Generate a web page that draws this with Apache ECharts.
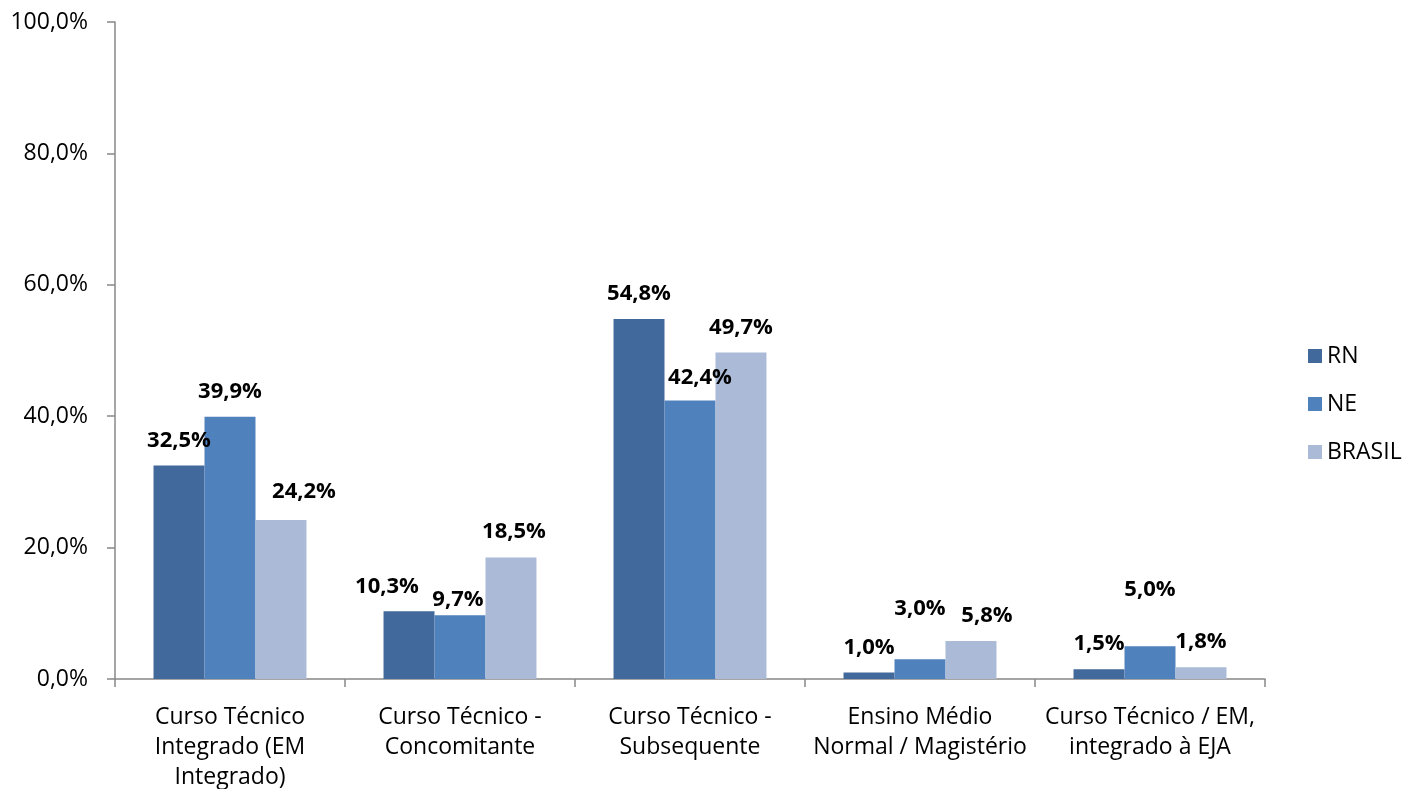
<!DOCTYPE html>
<html>
<head>
<meta charset="utf-8">
<script src="https://cdn.jsdelivr.net/npm/echarts@6/dist/echarts.min.js"></script>
<style>
  html, body { margin: 0; padding: 0; background: #fff; }
  #chart { width: 1407px; height: 789px; }
</style>
</head>
<body>
<div id="chart"></div>
<script>
// Distribution of enrolments by course type (%)
const categories = [
  'Curso Técnico\nIntegrado (EM\nIntegrado)',
  'Curso Técnico -\nConcomitante',
  'Curso Técnico -\nSubsequente',
  'Ensino Médio\nNormal / Magistério',
  'Curso Técnico / EM,\nintegrado à EJA'
];
const seriesNames = ['RN', 'NE', 'BRASIL'];
const rnValues = [32.5, 10.3, 54.8, 1.0, 1.5];
const neValues = [39.9, 9.7, 42.4, 3.0, 5.0];
const brasilValues = [24.2, 18.5, 49.7, 5.8, 1.8];
const yTicks = [0, 20, 40, 60, 80, 100];

// Hand-placed label nudges [dx, dy] per series, per category
const labelNudges = [
  [[0, 0], [-22, 0], [0, 0], [0, 0], [0, 0]],
  [[0, 0], [-2, 9], [10, 2], [0, -26], [0, -31]],
  [[23, -3], [3, -1], [0, 0], [16, 0], [0, 0]]
];

const colors = ['#41699B', '#4F81BD', '#AABAD7'];
const FONT = 'Open Sans';
const fmt = v => v.toFixed(1).replace('.', ',') + '%';

const chart = echarts.init(document.getElementById('chart'));

const valueSets = [rnValues, neValues, brasilValues];
const series = seriesNames.map((name, s) => ({
  name: name,
  type: 'bar',
  barGap: '0%',
  barCategoryGap: '33.5%',
  itemStyle: { color: colors[s] },
  label: {
    show: true,
    position: 'top',
    distance: 14,
    fontFamily: FONT,
    fontWeight: 'bold',
    fontSize: 22,
    color: '#000',
    formatter: p => fmt(p.value)
  },
  data: valueSets[s].map((v, i) => ({
    value: v,
    label: { offset: labelNudges[s][i] }
  }))
}));

chart.setOption({
  animation: false,
  backgroundColor: '#fff',
  color: colors,
  grid: {
    left: 115, right: 142, top: 22, bottom: 110,
    containLabel: false,
    outerBoundsMode: 'none'
  },
  legend: {
    orient: 'vertical',
    left: 1303,
    top: 339,
    itemWidth: 14,
    itemHeight: 14,
    itemGap: 24,
    icon: 'rect',
    textStyle: { fontFamily: FONT, fontSize: 23, color: '#000', lineHeight: 24 },
    data: seriesNames
  },
  xAxis: {
    type: 'category',
    data: categories,
    axisLine: { lineStyle: { color: '#888', width: 1.5 } },
    axisTick: { show: true, length: 8, lineStyle: { color: '#888', width: 1.5 } },
    axisLabel: {
      fontFamily: FONT,
      fontSize: 23,
      color: '#000',
      lineHeight: 30,
      margin: 23,
      interval: 0
    }
  },
  yAxis: {
    type: 'value',
    min: yTicks[0],
    max: yTicks[yTicks.length - 1],
    interval: yTicks[1] - yTicks[0],
    splitLine: { show: false },
    axisLine: { show: true, lineStyle: { color: '#888', width: 1.5 } },
    axisTick: { show: true, length: 8, lineStyle: { color: '#888', width: 1.5 } },
    axisLabel: {
      fontFamily: FONT,
      fontSize: 23,
      color: '#000',
      margin: 27,
      formatter: v => fmt(v)
    }
  },
  series: series
});
</script>
</body>
</html>
